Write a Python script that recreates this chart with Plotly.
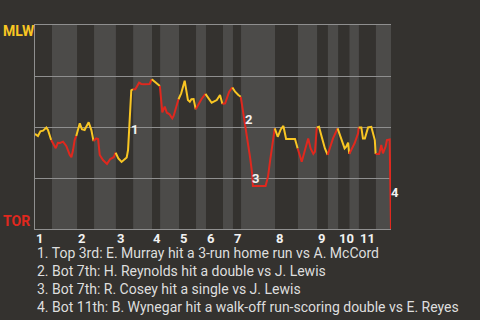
import plotly.graph_objects as go

# ---- data ----
# win probability for MLW (1 = MLW wins, 0 = TOR wins) against play progress
play_x = [0.0, 1.1, 2.0, 3.0, 4.2, 4.8, 6.0,
          7.7, 8.5, 9.3, 10.4, 11.6, 12.9, 13.5, 14.1, 14.7, 15.3,
          16.6, 17.4, 18.4, 19.0, 19.9, 20.9, 21.7,
          22.7, 23.4, 24.0, 25.2, 26.7, 27.9, 29.2, 29.9,
          30.9, 32.1, 34.0, 34.5, 35.3, 35.7, 36.3,
          37.2, 38.6, 39.4, 40.3, 41.5, 42.5, 43.3,
          44.4, 45.6, 46.3,
          47.2, 48.1, 48.9, 49.9, 50.9, 51.4, 52.4, 53.2,
          54.2, 55.5, 56.1, 56.7, 57.4, 58.0, 58.8, 59.6,
          60.4, 61.7, 63.2,
          64.9, 65.5, 67.4, 68.6, 69.5,
          70.5, 72.0, 73.2,
          74.2, 75.4, 76.3,
          77.8, 78.4, 79.2, 79.8, 80.5, 80.8, 85.5, 86.4, 87.2, 88.0, 88.9,
          90.0, 91.1, 92.1, 93.1, 96.4, 97.4,
          98.9, 100.1, 101.3, 102.2, 103.2, 103.8, 104.5,
          105.3, 106.3, 107.5, 108.5,
          110.5, 112.2,
          113.9, 114.8, 115.4, 116.1, 116.5,
          118.5, 119.8, 120.0,
          121.0, 121.6, 122.3, 123.5, 124.7, 126.0, 126.3,
          127.6, 128.4, 129.0, 130.0, 130.5, 131.5, 131.7, 132.0]
win_prob = [0.466, 0.456, 0.479, 0.482, 0.497, 0.485, 0.436,
            0.396, 0.423, 0.422, 0.428, 0.407, 0.363, 0.352, 0.387, 0.436, 0.456,
            0.518, 0.489, 0.485, 0.501, 0.523, 0.485, 0.431,
            0.444, 0.441, 0.363, 0.338, 0.319, 0.343, 0.352, 0.374,
            0.346, 0.329, 0.351, 0.387, 0.583, 0.680, 0.685,
            0.685, 0.717, 0.711, 0.709, 0.709, 0.711, 0.734,
            0.722, 0.711, 0.701,
            0.572, 0.600, 0.570, 0.562, 0.542, 0.554, 0.600, 0.636,
            0.665, 0.727, 0.673, 0.632, 0.624, 0.636, 0.637, 0.587,
            0.608, 0.636, 0.662,
            0.632, 0.619, 0.632, 0.657, 0.613,
            0.616, 0.673, 0.694,
            0.673, 0.657, 0.648,
            0.518, 0.469, 0.412, 0.346, 0.273, 0.211, 0.211, 0.257, 0.338, 0.420, 0.493,
            0.452, 0.488, 0.505, 0.441, 0.441, 0.395,
            0.330, 0.387, 0.444, 0.395, 0.368, 0.379, 0.498,
            0.501, 0.452, 0.395, 0.363,
            0.444, 0.493,
            0.428, 0.395, 0.403, 0.423, 0.368,
            0.420, 0.469, 0.498,
            0.498, 0.444, 0.444, 0.498, 0.501, 0.436, 0.368,
            0.368, 0.412, 0.371, 0.404, 0.436, 0.439, 0.289, 0.0]

# start of each half inning (top, bottom, top, bottom, ...)
half_starts = [0, 6.3, 15.6, 21.9, 30.0, 36.4, 43.4, 46.4, 53.4, 59.7, 63.4,
               69.7, 73.4, 76.4, 89.0, 97.5, 104.6, 108.6, 112.4, 116.6, 120.1, 126.4]
game_end = 132.0
inning_labels = ["1", "2", "3", "4", "5", "6", "7", "8", "9", "10", "11"]

teams = ["MLW", "TOR"]
team_colors = ["#f9c623", "#e0281e"]

event_labels = ["1", "2", "3", "4"]
event_x = [35.6, 77.7, 80.6, 132.0]
event_y = [0.49, 0.538, 0.249, 0.18]
event_notes = [
    "1. Top 3rd: E. Murray hit a 3-run home run vs A. McCord",
    "2. Bot 7th: H. Reynolds hit a double vs J. Lewis",
    "3. Bot 7th: R. Cosey hit a single vs J. Lewis",
    "4. Bot 11th: B. Wynegar hit a walk-off run-scoring double vs E. Reyes",
]

# ---- style ----
BG = "#34322f"
BAND = "#4c4b49"
GRID = "#8f8f8f"
FONT = "Roboto"

fig = go.Figure()

bounds = half_starts + [game_end]
shapes = []
for h in range(len(half_starts)):
    if h % 2 == 1:
        shapes.append(dict(type="rect", xref="x", yref="paper",
                           x0=bounds[h], x1=bounds[h + 1], y0=0, y1=1,
                           fillcolor=BAND, line_width=0, layer="below"))

# line segments per half inning, coloured by batting team
for h in range(len(half_starts)):
    xs, ys = [], []
    prev = [i for i, x in enumerate(play_x) if x < bounds[h]]
    if prev:
        xs.append(play_x[prev[-1]])
        ys.append(win_prob[prev[-1]])
    for x, y in zip(play_x, win_prob):
        if bounds[h] <= x < bounds[h + 1] or (h == len(half_starts) - 1 and x == game_end):
            xs.append(x)
            ys.append(y)
    fig.add_trace(go.Scatter(x=xs, y=ys, mode="lines",
                             line=dict(color=team_colors[h % 2], width=2),
                             hoverinfo="skip", showlegend=False, cliponaxis=False))

annotations = []
# team labels
annotations.append(dict(text="<b>%s</b>" % teams[0], xref="paper", yref="paper",
                        x=0, y=0.973, xanchor="left", yanchor="middle", xshift=-34,
                        showarrow=False, font=dict(family=FONT, size=14, color=team_colors[0])))
annotations.append(dict(text="<b>%s</b>" % teams[1], xref="paper", yref="paper",
                        x=0, y=0.039, xanchor="left", yanchor="middle", xshift=-34,
                        showarrow=False, font=dict(family=FONT, size=14, color=team_colors[1])))
# inning labels
for i, lab in enumerate(inning_labels):
    annotations.append(dict(text="<b>%s</b>" % lab, xref="x", yref="paper",
                            x=half_starts[2 * i], y=-0.046, xanchor="left", yanchor="middle",
                            xshift=-1, showarrow=False,
                            font=dict(family=FONT, size=13, color="#f2f2f2")))
# event markers
for lab, ex, ey in zip(event_labels, event_x, event_y):
    annotations.append(dict(text="<b>%s</b>" % lab, xref="x", yref="y", x=ex, y=ey,
                            xanchor="left", yanchor="middle", xshift=-2, showarrow=False,
                            font=dict(family=FONT, size=13, color="#f2f2f2")))
# notes
for i, note in enumerate(event_notes):
    annotations.append(dict(text=note, xref="paper", yref="paper",
                            x=0, y=-0.1176 - i * 0.0882, xanchor="left", yanchor="middle",
                            showarrow=False, font=dict(family=FONT, size=14, color="#dedede")))

fig.update_layout(
    width=480, height=320,
    margin=dict(l=35, r=89, t=25, b=91),
    paper_bgcolor=BG, plot_bgcolor=BG,
    shapes=shapes, annotations=annotations,
    xaxis=dict(range=[0, game_end], showgrid=False, zeroline=False, showticklabels=False,
               ticks="", showline=True, mirror=True, linecolor=GRID, linewidth=1, fixedrange=True),
    yaxis=dict(range=[0, 1], tickvals=[0.25, 0.5, 0.75], showgrid=True, gridcolor=GRID,
               gridwidth=1, zeroline=False, showticklabels=False, ticks="",
               showline=True, linecolor=GRID, linewidth=1, fixedrange=True),
    showlegend=False,
)

fig.write_html("out.html", config={"displayModeBar": False})
